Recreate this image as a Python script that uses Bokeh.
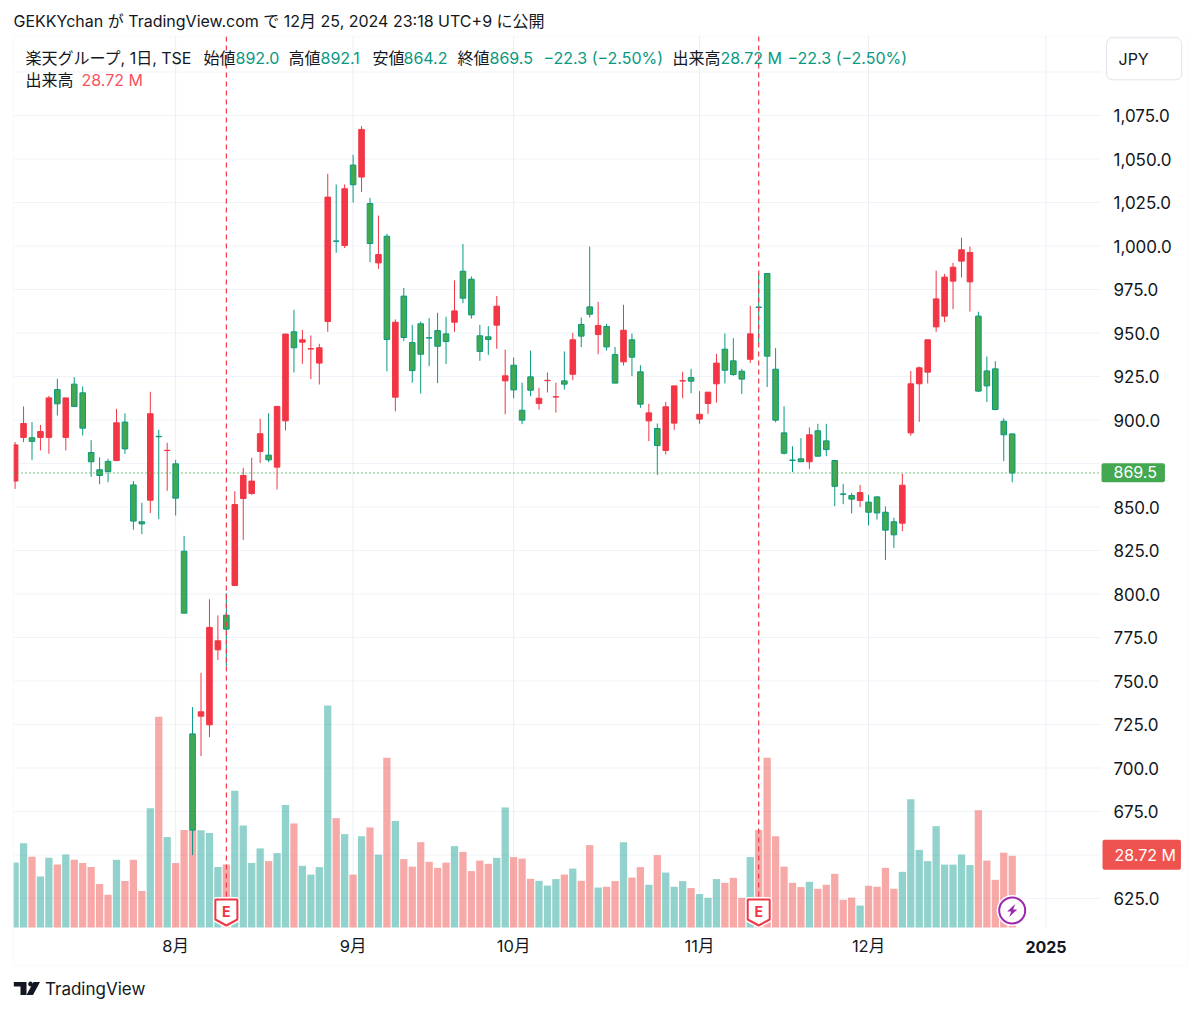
from bokeh.core.properties import value
from bokeh.embed import file_html
from bokeh.models import BoxAnnotation, ColumnDataSource, FixedTicker, Label, NumeralTickFormatter, PolyAnnotation, Range1d
from bokeh.plotting import figure
from bokeh.resources import INLINE

# daily candles
opens = [864.9, 890.0, 889.8, 890.0, 890.0, 917.5, 890.0, 920.6, 915.6, 881.3,
         871.4, 876.2, 876.7, 898.8, 862.7, 841.5, 853.9, 890.6, 882.4, 874.8,
         824.6, 719.6, 729.8, 724.8, 767.9, 787.8, 804.9, 854.9, 857.8, 881.9,
         879.8, 872.9, 899.5, 950.7, 944.7, 940.8, 932.7, 956.6, 1002.9, 1000.3,
         1046.5, 1039.6, 1024.4, 990.3, 1005.6, 913.1, 971.2, 944.5, 955.3, 947.3,
         951.4, 949.5, 956.2, 985.5, 980.9, 948.4, 947.8, 954.5, 922.5, 931.5,
         905.6, 924.8, 909.5, 922.6, 913.2, 922.5, 926.3, 954.9, 965.0, 949.1,
         953.7, 937.6, 933.4, 946.1, 927.7, 899.5, 895.1, 882.5, 898.2, 922.4,
         924.4, 900.5, 909.5, 920.8, 940.7, 934.0, 928.0, 934.9, 964.9, 984.2,
         929.2, 892.6, 877.0, 877.7, 876.0, 893.8, 888.0, 876.7, 857.5, 856.6,
         853.7, 852.8, 855.8, 847.0, 841.5, 840.7, 892.6, 920.8, 927.5, 953.5,
         959.7, 979.8, 991.3, 979.4, 959.7, 928.2, 929.4, 899.3, 892.0]
highs = [887.3, 907.8, 898.8, 897.2, 913.9, 923.7, 912.7, 924.6, 919.3, 888.4,
         878.6, 877.7, 906.4, 903.9, 864.9, 852.4, 916.2, 894.4, 886.9, 877.1,
         833.4, 735.0, 754.7, 797.0, 787.7, 800.5, 859.1, 872.5, 878.3, 900.7,
         903.9, 907.8, 949.4, 963.3, 951.8, 948.6, 943.8, 1041.5, 1035.4, 1035.4,
         1052.4, 1068.9, 1027.7, 1017.5, 1007.0, 957.8, 975.9, 954.7, 956.6, 958.5,
         961.6, 959.3, 980.2, 1001.2, 982.5, 954.7, 953.9, 971.3, 940.5, 935.9,
         921.5, 939.9, 918.5, 927.3, 921.5, 939.4, 950.1, 958.9, 999.7, 967.9,
         955.3, 942.0, 966.2, 949.7, 931.5, 909.3, 898.0, 910.4, 919.6, 927.7,
         929.4, 916.6, 916.0, 938.0, 949.7, 947.0, 929.4, 965.6, 984.0, 984.2,
         941.3, 907.9, 884.9, 889.6, 895.7, 897.8, 897.8, 877.1, 863.3, 858.1,
         862.7, 857.0, 856.2, 850.3, 843.8, 869.0, 928.2, 930.7, 946.1, 985.9,
         984.0, 990.3, 1004.7, 999.7, 962.2, 936.5, 933.8, 901.0, 892.1]
lows = [860.4, 887.3, 877.1, 882.5, 880.6, 902.6, 882.5, 907.8, 891.1, 867.3,
        863.1, 864.3, 876.4, 880.6, 836.9, 834.4, 846.5, 843.0, 859.3, 845.1,
        789.0, 649.9, 706.8, 717.7, 762.0, 758.3, 804.9, 831.1, 857.0, 875.2,
        875.8, 860.1, 894.0, 927.3, 932.3, 923.5, 920.4, 950.7, 996.1, 998.8,
        1025.0, 1031.0, 990.7, 986.9, 928.0, 905.0, 945.3, 921.5, 915.2, 930.9,
        921.2, 932.1, 950.7, 967.1, 958.3, 934.0, 937.4, 940.9, 903.3, 912.5,
        897.6, 913.7, 906.0, 915.8, 904.3, 917.5, 922.9, 941.9, 958.9, 937.8,
        939.9, 921.2, 931.3, 925.2, 907.0, 887.8, 868.5, 880.2, 894.3, 912.5,
        915.4, 897.8, 903.5, 910.0, 921.0, 925.4, 915.0, 932.8, 943.8, 919.0,
        898.7, 880.2, 870.0, 876.0, 871.9, 879.2, 879.2, 850.5, 851.6, 846.3,
        849.9, 839.4, 842.8, 819.6, 826.5, 836.1, 890.9, 898.9, 921.0, 950.7,
        956.2, 963.7, 981.9, 962.3, 916.0, 910.4, 905.6, 876.3, 864.2]
closes = [885.7, 898.0, 887.7, 893.4, 912.7, 909.3, 912.7, 907.8, 895.3, 876.0,
          868.1, 870.4, 898.4, 883.4, 841.9, 840.3, 903.6, 890.4, 882.6, 855.1,
          789.0, 664.3, 732.3, 780.8, 773.1, 779.8, 851.4, 868.1, 864.9, 892.1,
          877.1, 907.8, 949.4, 941.5, 946.1, 941.0, 941.5, 1028.1, 1002.7, 1032.9,
          1035.2, 1067.0, 1001.4, 995.1, 946.3, 956.2, 947.4, 928.4, 937.8, 947.1,
          942.4, 945.1, 962.7, 970.0, 960.4, 939.4, 946.3, 965.4, 925.4, 917.3,
          899.9, 917.1, 912.5, 922.8, 913.4, 920.6, 946.1, 948.2, 960.8, 954.3,
          942.0, 921.2, 951.6, 936.1, 909.1, 904.1, 885.3, 907.6, 919.6, 922.6,
          922.3, 903.3, 916.0, 932.7, 928.6, 926.1, 923.5, 949.5, 964.7, 936.7,
          899.9, 880.9, 876.8, 876.0, 891.5, 879.2, 883.0, 861.9, 857.3, 854.5,
          858.3, 847.0, 846.6, 836.7, 834.0, 862.5, 920.8, 930.0, 946.1, 969.6,
          982.1, 987.8, 997.8, 996.3, 916.6, 919.6, 906.0, 891.5, 869.5]
# volume in millions of shares
volumes = [26.0, 33.8, 28.3, 20.4, 27.9, 25.2, 29.2, 27.1, 25.8, 24.2,
           17.4, 13.1, 27.1, 18.6, 27.1, 14.6, 47.8, 84.4, 36.3, 25.8,
           39.1, 39.1, 39.0, 37.9, 24.2, 25.2, 54.8, 40.9, 25.8, 31.7,
           26.6, 29.8, 49.1, 41.7, 24.7, 21.2, 24.2, 88.9, 43.8, 37.4,
           21.2, 36.6, 40.1, 29.2, 68.0, 42.7, 27.4, 24.4, 34.2, 26.3,
           23.9, 26.0, 32.6, 30.3, 22.6, 26.8, 25.5, 27.9, 48.1, 28.2,
           27.6, 19.5, 18.7, 16.8, 19.4, 21.2, 23.6, 18.7, 33.0, 16.0,
           16.3, 18.6, 34.2, 20.0, 24.2, 17.1, 29.0, 22.0, 16.3, 18.6,
           15.8, 13.4, 11.9, 19.4, 17.9, 19.9, 11.9, 28.2, 39.1, 68.0,
           36.6, 24.4, 17.9, 16.2, 18.3, 15.5, 17.1, 21.5, 11.1, 12.0,
           8.8, 16.7, 16.3, 23.9, 15.5, 22.3, 51.4, 31.1, 26.6, 40.6,
           25.2, 25.2, 29.2, 25.0, 47.0, 26.8, 19.1, 30.0, 28.72]

price_ticks = [1100, 1075, 1050, 1025, 1000, 975, 950, 925, 900, 875, 850, 825,
               800, 775, 750, 725, 700, 675, 650, 625]
hidden_price_ticks = [1100, 875, 650]
month_ticks = [19, 40, 59, 81, 101, 122]
month_labels = ["8月", "9月", "10月", "11月", "12月", ""]
earnings_days = [25, 88]
last_price = 869.5

FONT = "Inter, 'Noto Sans CJK JP'"
INK = "#131722"
UP = "#f23645"
DOWN_EDGE = "#089981"
DOWN_FILL = "#43a84f"
GRID = "#f0f3fa"

# scales of the picture: the plot area is x 13-1100, y 36-927 on the canvas
W, H = 1192, 1004
PX_BAR = 8.45
PX_PRICE = 1.74


def day_at(px):
    return (px - 14.6) / PX_BAR


def price_at(py):
    return 1075 - (py - 115) / PX_PRICE


def text(x, y, s, color=INK, size="16px", style="normal", align="left", font=FONT, **kw):
    p.add_layout(Label(x=x, y=H - y + 0.7, x_units="screen", y_units="screen", text=s,
                       text_color=color, text_font=font, text_font_size=size,
                       text_font_style=style, text_align=align, text_baseline="middle", **kw))


def shape(xs, ys, color=INK):
    p.add_layout(PolyAnnotation(xs=xs, ys=[H - y for y in ys], xs_units="screen", ys_units="screen",
                                fill_color=color, fill_alpha=1, line_color=None))


# the frame fills the canvas, so the texts outside the plot area are not clipped
p = figure(width=W, height=H, output_backend="svg", toolbar_location=None,
           x_range=Range1d(day_at(0), day_at(W)),
           y_range=Range1d(price_at(H), price_at(0)),
           y_axis_location="right", min_border=0)
p.outline_line_color = None
p.extra_y_ranges = {"vol": Range1d((927 - H) / 2.496, 927 / 2.496)}

p.xaxis.ticker = FixedTicker(ticks=month_ticks)
p.xaxis.major_label_overrides = dict(zip(month_ticks, month_labels))
p.xaxis.fixed_location = price_at(927)
p.yaxis.ticker = FixedTicker(ticks=price_ticks)
p.yaxis.formatter = NumeralTickFormatter(format="0,0.0")
p.yaxis.major_label_overrides = {t: "" for t in hidden_price_ticks}
p.yaxis.fixed_location = day_at(1100)
for ax in (p.xaxis, p.yaxis):
    ax.axis_line_color = None
    ax.major_tick_line_color = None
    ax.minor_tick_line_color = None
    ax.major_tick_out = 0
    ax.major_tick_in = 0
    ax.major_label_text_color = INK
    ax.major_label_text_font = FONT
p.yaxis.major_label_text_font_size = "17px"
p.xaxis.major_label_text_font_size = "16.5px"
p.yaxis.major_label_standoff = 13
p.xaxis.major_label_standoff = 8
p.grid.visible = False

# grid lines stop at the price axis, so they are drawn by hand
p.segment(x0=[day_at(13)] * len(price_ticks), y0=price_ticks, x1=[day_at(1100)] * len(price_ticks), y1=price_ticks,
          line_color=GRID, line_width=1)
p.segment(x0=month_ticks, y0=[price_at(36)] * len(month_ticks), x1=month_ticks, y1=[price_at(927)] * len(month_ticks),
          line_color="#eceef3", line_width=1)

days = list(range(len(closes)))
rising = [c >= o for o, c in zip(opens, closes)]
src = ColumnDataSource(dict(
    day=days, open=opens, high=highs, low=lows, close=closes, volume=volumes,
    fill=[UP if r else DOWN_FILL for r in rising],
    edge=[UP if r else DOWN_EDGE for r in rising],
    vol_color=["#26a69a" if r else "#ef5350" for r in rising],
))

p.vbar(x="day", width=0.86, bottom=0, top="volume", y_range_name="vol", source=src,
       fill_color="vol_color", fill_alpha=0.5, line_color=None)

p.segment(x0="day", y0="low", x1="day", y1="high", source=src, line_color="edge", line_width=1)
p.vbar(x="day", width=0.66, bottom="open", top="close", source=src,
       fill_color="fill", line_color="edge", line_width=1)

# current price line, earnings lines
p.line([day_at(13), day_at(1100)], [last_price, last_price], line_color="#4caf50", line_width=1.5,
       line_dash=[1, 3])
for day in earnings_days:
    p.line([day, day], [price_at(36), price_at(900)], line_color=UP, line_width=1.2, line_dash=[5, 4])

# earnings badges and the dividend/split bolt
for day in earnings_days:
    shield_x = [day + dx / PX_BAR for dx in (-11, 11, 11, 0, -11)]
    shield_y = [price_at(y) for y in (899, 899, 919, 925, 919)]
    p.patch(shield_x, shield_y, fill_color="white", line_color="white", line_width=5)
    p.patch(shield_x, shield_y, fill_color="white", line_color=UP, line_width=2)
    p.text([day], [price_at(911)], text=["E"], text_color=UP, text_font=value("Inter"), text_font_size="14px",
           text_font_style="bold", text_align="center", text_baseline="middle")

last_day = days[-1]
p.scatter([last_day], [price_at(910)], size=31, fill_color="white", line_color=None)
p.scatter([last_day], [price_at(910)], size=26, fill_color="white", line_color="#9c27b0", line_width=2)
bolt_x = [last_day + dx / PX_BAR for dx in (3, -5, -1, -3, 5, 1)]
bolt_y = [price_at(910 + dy) for dy in (-6.5, 1, 1, 6.5, -1, -1)]
p.patch(bolt_x, bolt_y, fill_color="#9c27b0", line_color=None)

# the plot area cuts off the first bar on its left, then the chart border
p.add_layout(BoxAnnotation(left=0, right=13, top=H, bottom=0,
                           left_units="screen", right_units="screen", top_units="screen", bottom_units="screen",
                           fill_color="white", fill_alpha=1, line_color=None))
p.add_layout(BoxAnnotation(left=13, right=1187, top=H - 36, bottom=H - 965,
                           left_units="screen", right_units="screen", top_units="screen", bottom_units="screen",
                           fill_alpha=0, line_color=GRID, line_width=1.5))

# header
text(13, 21, "GEKKYchan が TradingView.com で 12月 25, 2024 23:18 UTC+9 に公開")
text(25, 58, "楽天グループ, 1日, TSE")
for x, s in [(203, "始値"), (288, "高値"), (372, "安値"), (457, "終値"), (672, "出来高")]:
    text(x, 58, s)
for x, s in [(235, "892.0"), (320, "892.1"), (403, "864.2"), (489, "869.5"), (543, "−22.3 (−2.50%)"),
             (720, "28.72 M"), (787, "−22.3 (−2.50%)")]:
    text(x, 58, s, color=DOWN_EDGE)
text(25, 80, "出来高")
text(81, 80, "28.72 M", color="#f7525f")

# price axis tags, padding is (left, right, top, bottom)
text(1106, 59, "JPY", padding=(12, 33, 11, 11), border_line_color="#e0e3eb", border_radius=6,
     background_fill_color="white")
text(1101, 473, "869.5", color="white", padding=(12, 8, 3, 4), background_fill_color="#43a84f", border_radius=2)
text(1102, 855, "28.72 M", color="white", padding=(12, 5, 5, 5), background_fill_color="#ef5350", border_radius=2)
text(1045.5, 947, "2025", style="bold", size="16px", align="center", font="Inter")

# footer logo
shape([13.3, 26, 26, 20, 20, 13.3], [981.5, 981.5, 994.5, 994.5, 986, 986])
shape([33, 39.5, 32.5, 26], [981.5, 981.5, 994.5, 994.5])
shape([28.5, 30, 31.5, 32.5, 31.5, 30, 28.5, 27.5], [981.5, 981, 981.5, 983.5, 985.5, 986, 985.5, 983.5])
text(44.5, 989, "TradingView", size="17px")

open("out.html", "w").write(file_html(p, INLINE))
